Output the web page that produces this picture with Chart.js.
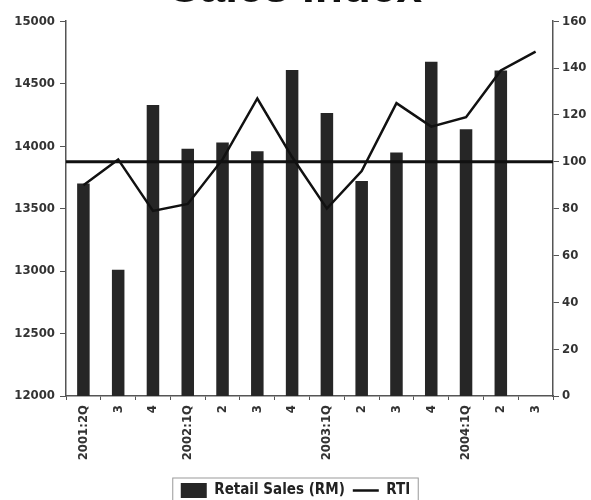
<!DOCTYPE html>
<html>
<head>
<meta charset="utf-8">
<script src="https://cdn.jsdelivr.net/npm/chart.js@4.4.1/dist/chart.umd.min.js"></script>
<style>
  html, body { margin: 0; padding: 0; background: #fff; overflow: hidden; }
  #wrap { position: relative; width: 591px; height: 540px; margin-top: -32px; }
</style>
</head>
<body>
<div id="wrap"><canvas id="c"></canvas></div>
<script>
// 四半期ラベル
const quarters = ['2001:2Q', '3', '4', '2002:1Q', '2', '3', '4', '2003:1Q', '2', '3', '4', '2004:1Q', '2', '3'];
// 小売売上 (RM)
const retailSales = [13700, 13010, 14330, 13980, 14030, 13960, 14610, 14265, 13720, 13950, 14675, 14135, 14605, null];
// RTI
const rti = [90, 101, 79, 82, 101, 127, 102, 80, 96, 125, 115, 119, 139, 147];
const rtiBase = 100;

const tickFont = { family: "'DejaVu Sans Condensed', 'Liberation Sans', Arial", size: 13, weight: 'bold' };
const xFont = { family: "'DejaVu Sans Condensed', 'Liberation Sans', Arial", size: 13, weight: 'bold' };

// 基準線 (RTI = 100)
const baseLine = {
  id: 'baseLine',
  afterDatasetsDraw(chart) {
    const { ctx, chartArea } = chart;
    const y = chart.scales.y1.getPixelForValue(rtiBase);
    ctx.save();
    ctx.strokeStyle = '#111';
    ctx.lineWidth = 3;
    ctx.beginPath();
    ctx.moveTo(chartArea.left, y);
    ctx.lineTo(chartArea.right, y);
    ctx.stroke();
    ctx.restore();
  }
};

// 凡例の枠
const legendFrame = {
  id: 'legendFrame',
  afterDraw(chart) {
    const lg = chart.legend;
    if (!lg || !lg.legendHitBoxes.length) return;
    const first = lg.legendHitBoxes[0];
    const last = lg.legendHitBoxes[lg.legendHitBoxes.length - 1];
    const ctx = chart.ctx;
    ctx.save();
    ctx.strokeStyle = '#999';
    ctx.lineWidth = 1;
    ctx.strokeRect(first.left - 8, first.top - 5, last.left + last.width - first.left + 16, first.height + 10);
    ctx.restore();
  }
};

new Chart(document.getElementById('c'), {
  data: {
    labels: quarters,
    datasets: [
      {
        type: 'bar',
        label: 'Retail Sales (RM)',
        data: retailSales,
        yAxisID: 'y',
        backgroundColor: '#262626',
        borderWidth: 0,
        categoryPercentage: 1,
        barPercentage: 0.36,
        order: 1
      },
      {
        type: 'line',
        label: 'RTI',
        data: rti,
        yAxisID: 'y1',
        borderColor: '#111',
        backgroundColor: '#111',
        borderWidth: 2.5,
        pointRadius: 0,
        tension: 0,
        order: 0
      }
    ]
  },
  options: {
    responsive: true,
    maintainAspectRatio: false,
    animation: false,
    layout: { padding: { left: 0, right: 0, top: 0, bottom: 0 } },
    plugins: {
      title: {
        display: true,
        text: 'Sales Index',
        color: '#111',
        font: { family: "'Liberation Sans', Arial", size: 46, weight: 'bold' },
        padding: { top: -6, bottom: 4 }
      },
      legend: {
        position: 'bottom',
        labels: {
          color: '#222',
          font: { family: "'DejaVu Sans Condensed', 'Liberation Sans', Arial", size: 15, weight: 'bold' },
          usePointStyle: true,
          pointStyleWidth: 26,
          padding: 8,
          sort: (a, b) => a.datasetIndex - b.datasetIndex,
          generateLabels(chart) {
            const items = Chart.defaults.plugins.legend.labels.generateLabels(chart);
            items.forEach(it => {
              it.pointStyle = it.datasetIndex === 0 ? 'rect' : 'line';
              it.lineWidth = it.datasetIndex === 0 ? 0 : 2.5;
            });
            return items;
          }
        }
      },
      tooltip: { enabled: false }
    },
    scales: {
      x: {
        offset: true,
        grid: { display: true, drawOnChartArea: false, offset: true, tickLength: 4, color: '#555' },
        border: { display: true, color: '#555', width: 1.5 },
        ticks: { color: '#333', font: xFont, minRotation: 90, maxRotation: 90, autoSkip: false, padding: 5 },
        afterFit(scale) { scale.height = 79; }
      },
      y: {
        position: 'left',
        min: 12000,
        max: 15000,
        grid: { display: true, drawOnChartArea: false, tickLength: 6, color: '#555' },
        border: { display: true, color: '#555', width: 1.5 },
        ticks: { stepSize: 500, color: '#333', font: tickFont, padding: 5, callback: v => String(v) },
        afterFit(scale) { scale.width = 66; }
      },
      y1: {
        position: 'right',
        min: 0,
        max: 160,
        grid: { display: true, drawOnChartArea: false, tickLength: 6, color: '#555' },
        border: { display: true, color: '#555', width: 1.5 },
        ticks: { stepSize: 20, color: '#333', font: tickFont, padding: 3, callback: v => String(v) },
        afterFit(scale) { scale.width = 38; }
      }
    }
  },
  plugins: [baseLine, legendFrame]
});
</script>
</body>
</html>
